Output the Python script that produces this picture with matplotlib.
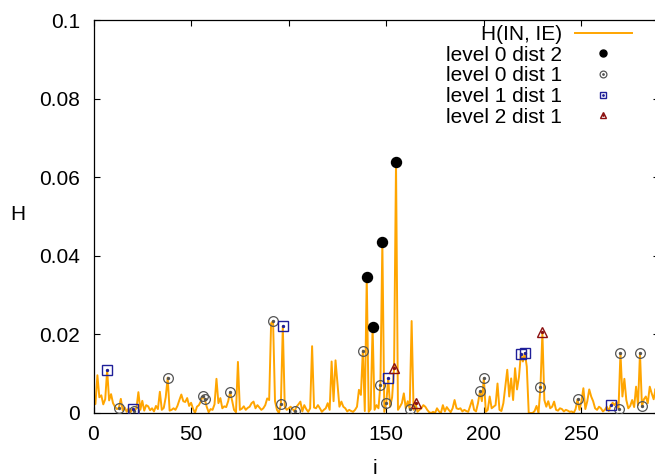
import numpy as np
import matplotlib
matplotlib.use('Agg')
import matplotlib.pyplot as plt
from matplotlib.legend_handler import HandlerTuple

# H(IN, IE) for i = 0 .. 290
H = [
    0.0021, 0.0023, 0.0096, 0.0040, 0.0045, 0.0022, 0.0035, 0.0109, 0.0032, 0.0048,
    0.0025, 0.0016, 0.0010, 0.0013, 0.0036, 0.0006, 0.0014, 0.0003, 0.0012, 0.0002,
    0.0011, 0.0006, 0.0012, 0.0053, 0.0008, 0.0031, 0.0006, 0.0020, 0.0017, 0.0007,
    0.0012, 0.0004, 0.0018, 0.0010, 0.0054, 0.0008, 0.0013, 0.0040, 0.0090, 0.0006,
    0.0008, 0.0012, 0.0008, 0.0018, 0.0033, 0.0047, 0.0030, 0.0028, 0.0038, 0.0018,
    0.0026, 0.0011, 0.0000, 0.0016, 0.0020, 0.0030, 0.0044, 0.0035, 0.0016, 0.0002,
    0.0010, 0.0008, 0.0022, 0.0087, 0.0025, 0.0038, 0.0012, 0.0017, 0.0015, 0.0030,
    0.0053, 0.0032, 0.0008, 0.0002, 0.0130, 0.0008, 0.0011, 0.0017, 0.0008, 0.0013,
    0.0016, 0.0025, 0.0029, 0.0012, 0.0020, 0.0014, 0.0008, 0.0012, 0.0020, 0.0037,
    0.0033, 0.0228, 0.0234, 0.0030, 0.0008, 0.0000, 0.0022, 0.0221, 0.0016, 0.0008,
    0.0012, 0.0016, 0.0010, 0.0004, 0.0016, 0.0022, 0.0029, 0.0004, 0.0020, 0.0010,
    0.0003, 0.0012, 0.0170, 0.0014, 0.0012, 0.0020, 0.0012, 0.0003, 0.0008, 0.0012,
    0.0025, 0.0008, 0.0131, 0.0030, 0.0134, 0.0075, 0.0016, 0.0029, 0.0016, 0.0012,
    0.0004, 0.0008, 0.0005, 0.0003, 0.0008, 0.0016, 0.0059, 0.0046, 0.0159, 0.0005,
    0.0346, 0.0003, 0.0010, 0.0220, 0.0008, 0.0020, 0.0012, 0.0072, 0.0435, 0.0003,
    0.0025, 0.0088, 0.0016, 0.0040, 0.0114, 0.0639, 0.0008, 0.0016, 0.0025, 0.0050,
    0.0012, 0.0030, 0.0011, 0.0234, 0.0008, 0.0025, 0.0003, 0.0008, 0.0012, 0.0020,
    0.0016, 0.0008, 0.0002, 0.0000, 0.0003, 0.0000, 0.0012, 0.0004, 0.0000, 0.0020,
    0.0004, 0.0015, 0.0008, 0.0002, 0.0012, 0.0033, 0.0012, 0.0010, 0.0012, 0.0004,
    0.0008, 0.0005, 0.0003, 0.0018, 0.0033, 0.0008, 0.0004, 0.0025, 0.0055, 0.0030,
    0.0089, 0.0003, 0.0008, 0.0042, 0.0012, 0.0016, 0.0020, 0.0075, 0.0008, 0.0005,
    0.0025, 0.0067, 0.0110, 0.0042, 0.0088, 0.0033, 0.0114, 0.0060, 0.0092, 0.0151,
    0.0131, 0.0153, 0.0118, 0.0000, 0.0000, 0.0000, 0.0005, 0.0018, 0.0000, 0.0065,
    0.0205, 0.0033, 0.0016, 0.0030, 0.0012, 0.0016, 0.0029, 0.0008, 0.0006, 0.0012,
    0.0010, 0.0004, 0.0008, 0.0006, 0.0003, 0.0004, 0.0000, 0.0010, 0.0035, 0.0008,
    0.0030, 0.0063, 0.0010, 0.0030, 0.0060, 0.0042, 0.0030, 0.0012, 0.0008, 0.0016,
    0.0012, 0.0004, 0.0008, 0.0016, 0.0005, 0.0020, 0.0026, 0.0020, 0.0028, 0.0011,
    0.0153, 0.0042, 0.0087, 0.0033, 0.0012, 0.0018, 0.0033, 0.0015, 0.0067, 0.0020,
    0.0153, 0.0017, 0.0035, 0.0042, 0.0025, 0.0067, 0.0050, 0.0035, 0.0062, 0.0030,
    0.0045,
]

# indices of the marked points
lvl0_dist2 = [140, 143, 148, 155]
lvl0_dist1 = [13, 21, 38, 56, 57, 70, 92, 96, 103, 138, 147, 150, 162,
              198, 200, 229, 248, 269, 270, 280, 281]
lvl1_dist1 = [7, 20, 97, 151, 219, 221, 265]
lvl2_dist1 = [154, 165, 230]

x_ticks = [0, 50, 100, 150, 200, 250]
y_ticks = [0, 0.02, 0.04, 0.06, 0.08, 0.1]
y_tick_labels = ['0', '0.02', '0.04', '0.06', '0.08', '0.1']

plt.rcParams['font.family'] = ['Liberation Sans', 'DejaVu Sans']
plt.rcParams['font.size'] = 15

fig = plt.figure(figsize=(6.55, 4.76), dpi=100)
ax = fig.add_axes([93.5 / 655, 63 / 476, (659.5 - 93.5) / 655, 393 / 476])

H = np.array(H)
i = np.arange(len(H))
line, = ax.plot(i, H, color='#ffa500', lw=1.4, label='H(IN, IE)', zorder=2)


def points(idx, dot=True, **kw):
    idx = np.array(idx)
    m, = ax.plot(idx, H[idx], ls='none', zorder=3, **kw)
    if not dot:
        return m
    d, = ax.plot(idx, H[idx], ls='none', marker='o', ms=1.4,
                 color=kw['mec'], zorder=4)
    return (m, d)


h_black = points(lvl0_dist2, dot=False, marker='o', ms=7.2, mfc='black', mec='black')
h_gray = points(lvl0_dist1, marker='o', ms=7, mfc='none', mec='#555555', mew=0.9)
h_blue = points(lvl1_dist1, marker='s', ms=6.5, mfc='none', mec='#1f1f99', mew=1.0)
h_red = points(lvl2_dist1, marker='^', ms=7, mfc='none', mec='#8b1010', mew=1.0)

ax.set_xlim(0, 290)
ax.set_ylim(0, 0.1)
ax.set_xticks(x_ticks)
ax.set_yticks(y_ticks)
ax.set_yticklabels(y_tick_labels)
ax.tick_params(direction='in', length=4.5, width=0.8, top=True, right=True,
               labelsize=15)
ax.tick_params(axis='y', pad=9.5)
ax.tick_params(axis='x', pad=9)
for s in ax.spines.values():
    s.set_linewidth(0.9)

ax.set_ylabel('H', rotation=0, ha='center', va='center')
ax.yaxis.set_label_coords(-0.133, 0.504)
ax.set_xlabel('i', va='center')
ax.xaxis.set_label_coords(0.497, -0.14)

ax.legend([line, h_black, h_gray, h_blue, h_red],
          ['H(IN, IE)', 'level 0 dist 2', 'level 0 dist 1',
           'level 1 dist 1', 'level 2 dist 1'],
          handler_map={tuple: HandlerTuple(ndivide=1)},
          loc='upper right', bbox_to_anchor=(632 / 655, 1 - 25 / 476),
          bbox_transform=fig.transFigure, frameon=False, markerfirst=False,
          handlelength=2.74, handletextpad=0.62, labelspacing=0.08,
          borderpad=0, borderaxespad=0, markerscale=0.7, numpoints=1,
          fontsize=15)

fig.savefig('out.png', dpi=100)
